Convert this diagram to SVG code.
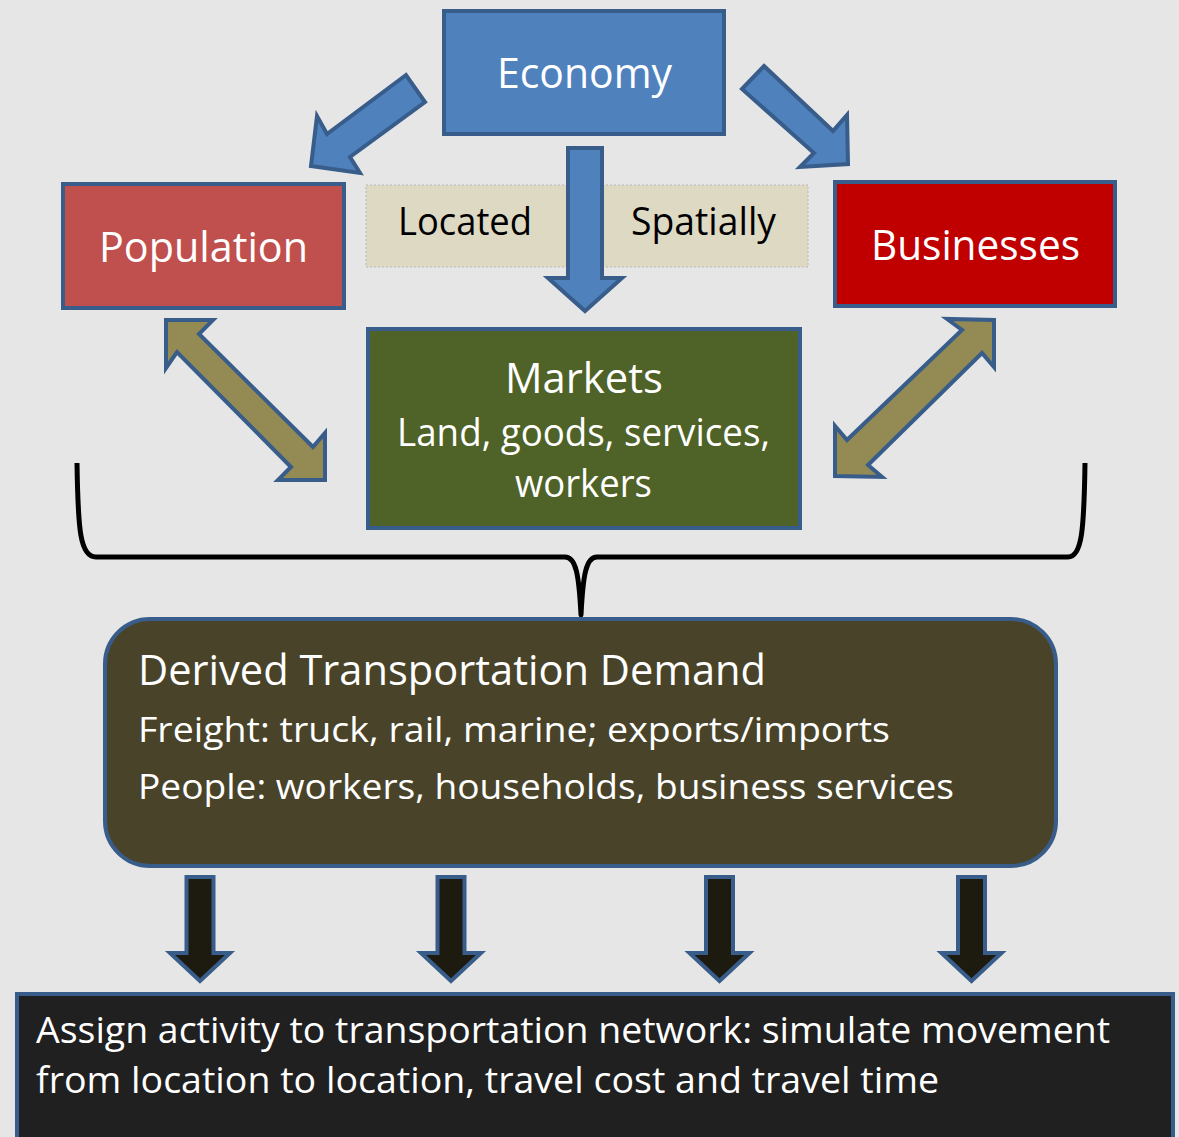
<svg xmlns="http://www.w3.org/2000/svg" width="1179" height="1137" viewBox="0 0 1179 1137">
<style>
.box{stroke:#385d8a;stroke-width:4}
.t{font-family:"Open Sans","Noto Sans",sans-serif;fill:#ffffff}
.tb{font-family:"Open Sans","Noto Sans",sans-serif;fill:#000000}
.blue{fill:#4f81bd;stroke:#385d8a;stroke-width:4;stroke-linejoin:miter}
.olive{fill:#948a54;stroke:#385d8a;stroke-width:4;stroke-linejoin:miter}
.dark{fill:#1d1b10;stroke:#385d8a;stroke-width:4;stroke-linejoin:miter}
</style>
<rect x="0" y="0" width="1179" height="1137" fill="#e6e6e6"/>

<g id="located-spatially">
<rect x="366" y="185" width="442" height="82" fill="#ddd9c3" stroke="#b8b8b8" stroke-width="1" stroke-dasharray="2,2"/>
<text class="tb" x="398" y="235" font-size="38" textLength="134" lengthAdjust="spacingAndGlyphs">Located</text>
<text class="tb" x="631" y="235" font-size="38" textLength="145" lengthAdjust="spacingAndGlyphs">Spatially</text>
</g>

<g id="economy">
<rect class="box" x="444" y="11" width="280" height="123" fill="#4f81bd"/>
<text class="t" x="584.5" y="88" font-size="42" text-anchor="middle" textLength="175" lengthAdjust="spacingAndGlyphs">Economy</text>
</g>

<g id="population">
<rect class="box" x="63" y="184" width="281" height="124" fill="#c0504d"/>
<text class="t" x="203.5" y="262" font-size="42" text-anchor="middle" textLength="209" lengthAdjust="spacingAndGlyphs">Population</text>
</g>

<g id="businesses">
<rect class="box" x="835" y="182" width="280" height="124" fill="#c00000"/>
<text class="t" x="975.5" y="260" font-size="42" text-anchor="middle" textLength="209" lengthAdjust="spacingAndGlyphs">Businesses</text>
</g>

<g id="markets">
<rect class="box" x="368" y="329" width="432" height="199" fill="#4f6228"/>
<text class="t" x="584" y="393" font-size="42" text-anchor="middle" textLength="158" lengthAdjust="spacingAndGlyphs">Markets</text>
<text class="t" x="583.5" y="446" font-size="38" text-anchor="middle" textLength="373" lengthAdjust="spacingAndGlyphs">Land, goods, services,</text>
<text class="t" x="583.5" y="497" font-size="38" text-anchor="middle" textLength="137" lengthAdjust="spacingAndGlyphs">workers</text>
</g>

<g id="connectors">
<polygon class="blue" points="406,75 327,134 317,116 311,166 360,173 350,157 425,102"/>
<polygon class="blue" points="764,66 833,131 847,115 848,164 800,167 814,153 742,89"/>
<polygon class="blue" points="568,148 602,148 602,278 622,278 585,311 548,278 568,278"/>
<polygon class="olive" points="166,320 213,320 199,334 313,447 325,433 325,480 278,480 291,467 177,352 166,368"/>
<polygon class="olive" points="994,320 994,367 982,353 868,465 882,477 835,476 835,426 847,440 962,330 947,319"/>
<path d="M77,463 C78,530 80,557 96,557 L565,557 C576,557 579,575 581,615 C583,575 586,557 597,557 L1068,557 C1082,557 1084,530 1085,463" fill="none" stroke="#000000" stroke-width="5" stroke-linejoin="round"/>
<path class="dark" d="M186.5,877 H213.5 V953 H230 L200,981 L170,953 H186.5 Z"/>
<path class="dark" d="M437.5,877 H464.5 V953 H481 L451,981 L421,953 H437.5 Z"/>
<path class="dark" d="M706,877 H733 V953 H749.5 L719.5,981 L689.5,953 H706 Z"/>
<path class="dark" d="M958,877 H985 V953 H1001.5 L971.5,981 L941.5,953 H958 Z"/>
</g>

<g id="derived-demand">
<rect class="box" x="105" y="619" width="951" height="247" rx="45" ry="45" fill="#494429"/>
<text class="t" x="138" y="685" font-size="42" textLength="628" lengthAdjust="spacingAndGlyphs">Derived Transportation Demand</text>
<text class="t" x="138" y="742" font-size="35" textLength="752" lengthAdjust="spacingAndGlyphs">Freight: truck, rail, marine; exports/imports</text>
<text class="t" x="138" y="799" font-size="35" textLength="816" lengthAdjust="spacingAndGlyphs">People: workers, households, business services</text>
</g>

<g id="assign">
<rect class="box" x="17" y="994" width="1156" height="160" fill="#202020"/>
<text class="t" x="36" y="1043" font-size="36" textLength="1074" lengthAdjust="spacingAndGlyphs">Assign activity to transportation network: simulate movement</text>
<text class="t" x="36" y="1093" font-size="36" textLength="903" lengthAdjust="spacingAndGlyphs">from location to location, travel cost and travel time</text>
</g>
</svg>
